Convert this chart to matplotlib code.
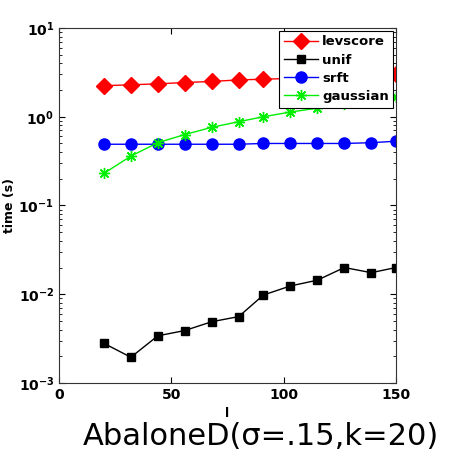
import numpy as np
from matplotlib import pyplot as plt

# sketch size l
l = [20, 32, 44, 56, 68, 80, 91, 103, 115, 127, 139, 150]

# running times (s)
levscore = [2.24, 2.29, 2.35, 2.43, 2.5, 2.6, 2.65, 2.7, 2.75, 2.8, 2.85, 3.0]
unif = [0.0028, 0.00195, 0.0034, 0.0039, 0.0049, 0.0056, 0.0098, 0.0124, 0.0144, 0.020, 0.0175, 0.020]
srft = [0.49, 0.49, 0.49, 0.49, 0.49, 0.49, 0.5, 0.5, 0.5, 0.5, 0.51, 0.53]
gaussian = [0.23, 0.36, 0.51, 0.63, 0.76, 0.88, 1.0, 1.13, 1.25, 1.38, 1.5, 1.66]

fig = plt.figure(figsize=(4.5, 4.59), dpi=100)
ax = fig.add_axes([0.131, 0.1656, 0.749, 0.7734])

ax.plot(l, levscore, color='red', marker='D', ms=8, mfc='red', mec='red', lw=1.0, label='levscore')
ax.plot(l, unif, color='black', marker='s', ms=6, lw=1.0, label='unif')
ax.plot(l, srft, color='blue', marker='o', ms=8, lw=1.0, label='srft')
ax.plot(l, gaussian, color='#00ee00', marker=(8, 2, 0), ms=8, mew=1.0, lw=1.0, label='gaussian')

ax.set_yscale('log')
ax.set_ylim(1e-3, 1e1)
ax.set_xlim(0, 150)
ax.set_xticks([0, 50, 100, 150])
ax.tick_params(which='both', direction='in', top=True, right=True, labelsize=10)
ax.tick_params(which='major', length=4)
ax.tick_params(which='minor', length=2)
for lab in ax.get_xticklabels() + ax.get_yticklabels():
    lab.set_fontweight('bold')
for s in ax.spines.values():
    s.set_color('#333333')

ax.set_xlabel('l', fontsize=9, fontweight='bold', labelpad=4)
ax.set_ylabel('time (s)', fontsize=9, fontweight='bold', labelpad=2)

leg = ax.legend(loc='upper right', prop={'weight': 'bold', 'size': 9.5},
                fancybox=False, edgecolor='black', framealpha=1,
                handlelength=2.6, borderpad=0.35, labelspacing=0.4,
                handletextpad=0.3, borderaxespad=0.2)
leg.get_frame().set_linewidth(0.8)

fig.text(0.58, 0.048, 'AbaloneD(σ=.15,k=20)', fontsize=22, ha='center', va='center')

fig.savefig('out.png', dpi=100)
